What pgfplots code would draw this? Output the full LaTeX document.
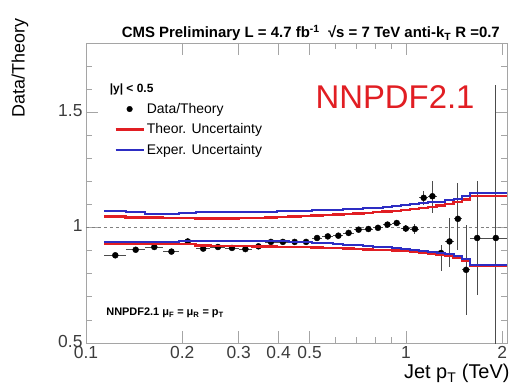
\documentclass[border=0pt]{standalone}
\usepackage{fontspec}
\setmainfont{Liberation Sans}
\usepackage{pgfplots}
\pgfplotsset{compat=1.18}
\definecolor{rootred}{RGB}{225,30,35}
\definecolor{rootblue}{RGB}{45,45,195}
\definecolor{framegray}{RGB}{165,165,165}
\definecolor{ticklab}{RGB}{60,60,60}
\pgfplotsset{
  longline/.style={legend image code/.code={\draw[##1] (0bp,0bp) -- (28bp,0bp);}},
  dotleg/.style={legend image code/.code={\draw[##1] plot coordinates {(14bp,0bp)};}},
}
\begin{document}
\begin{tikzpicture}
\path[use as bounding box] (-86bp,-42bp) rectangle (428bp,343bp);
\begin{axis}[
  at={(0,0)}, anchor=south west,
  scale only axis, width=421bp, height=300bp,
  xmode=log, xmin=0.1, xmax=2.07, ymin=0.5, ymax=1.8,
  clip mode=individual,
  xtick={0.1,0.2,0.3,0.4,0.5,1,2},
  xticklabels={0.1,0.2,0.3,0.4,0.5,1,2},
  minor xtick={0.6,0.7,0.8,0.9},
  ytick={0.5,1,1.5},
  yticklabels={0.5,1,1.5},
  minor ytick={0.6,0.7,0.8,0.9,1.1,1.2,1.3,1.4,1.6,1.7},
  tick align=inside,
  major tick length=12bp, minor tick length=6bp,
  axis line style={framegray, line width=0.8bp},
  every tick/.style={framegray, line width=0.8bp},
  ticklabel style={font=\fontsize{17.5}{17.5}\selectfont, text=ticklab},
  yticklabel style={yshift=2bp},
  /pgf/number format/assume math mode=true,
  legend style={at={(rel axis cs:0.06,0.877)}, anchor=north west, draw=none, fill=none,
    font=\fontsize{14}{15}\selectfont, row sep=5bp},
  legend cell align=left,
]
\addlegendimage{empty legend}
\addlegendentry{\hspace*{-37bp}\fontsize{12}{13}\selectfont\textbf{|y| < 0.5}}
\addlegendimage{dotleg, only marks, mark=*, mark size=2.8bp, black}
\addlegendentry{Data/Theory}
\addlegendimage{longline, rootred, line width=2.4bp}
\addlegendentry{Theor. Uncertainty}
\addlegendimage{longline, rootblue, line width=2bp}
\addlegendentry{Exper. Uncertainty}

\addplot[forget plot, gray, dashed, line width=0.6bp] coordinates {(0.1,1) (2.07,1)};

\addplot[forget plot, only marks, mark=*, mark size=3bp, black,
  error bars/.cd, x dir=both, x explicit, y dir=both, y explicit,
  error bar style={black!70, line width=0.8bp}, error mark=none]
coordinates {
(0.1235,0.880) += (0.0095,0.006) -= (0.0095,0.006)
(0.143,0.904) += (0.010,0.006) -= (0.010,0.006)
(0.1635,0.916) += (0.0105,0.006) -= (0.0105,0.006)
(0.185,0.896) += (0.011,0.006) -= (0.011,0.006)
(0.208,0.940) += (0.012,0.004) -= (0.012,0.004)
(0.2325,0.909) += (0.0125,0.004) -= (0.0125,0.004)
(0.2585,0.916) += (0.0135,0.004) -= (0.0135,0.004)
(0.286,0.912) += (0.014,0.004) -= (0.014,0.004)
(0.315,0.907) += (0.015,0.004) -= (0.015,0.004)
(0.346,0.919) += (0.016,0.004) -= (0.016,0.004)
(0.3785,0.938) += (0.0165,0.004) -= (0.0165,0.004)
(0.4125,0.938) += (0.0175,0.004) -= (0.0175,0.004)
(0.449,0.938) += (0.019,0.004) -= (0.019,0.004)
(0.4875,0.938) += (0.0195,0.004) -= (0.0195,0.004)
(0.5275,0.955) += (0.0205,0.004) -= (0.0205,0.004)
(0.570,0.962) += (0.022,0.004) -= (0.022,0.004)
(0.615,0.965) += (0.023,0.004) -= (0.023,0.004)
(0.662,0.977) += (0.024,0.004) -= (0.024,0.004)
(0.7115,0.991) += (0.0255,0.005) -= (0.0255,0.005)
(0.7635,0.994) += (0.0265,0.005) -= (0.0265,0.005)
(0.818,0.999) += (0.028,0.006) -= (0.028,0.006)
(0.8755,1.013) += (0.0295,0.010) -= (0.0295,0.010)
(0.936,1.020) += (0.031,0.012) -= (0.031,0.012)
(0.9995,0.996) += (0.0325,0.015) -= (0.0325,0.015)
(1.0665,0.994) += (0.0345,0.020) -= (0.0345,0.020)
(1.1365,1.129) += (0.0355,0.029) -= (0.0355,0.029)
(1.21,1.136) += (0.038,0.064) -= (0.038,0.072)
(1.2875,0.890) += (0.0395,0.036) -= (0.0395,0.080)
(1.3685,0.940) += (0.0415,0.100) -= (0.0415,0.110)
(1.4535,1.038) += (0.0435,0.156) -= (0.0435,0.134)
(1.5425,0.817) += (0.0455,0.196) -= (0.0455,0.195)
(1.67,0.955) += (0.114,0.245) -= (0.082,0.246)
(1.91,0.955) += (0.20,0.665) -= (0.126,0.50)
};

\addplot[forget plot, const plot, rootred, line width=2.4bp] coordinates {
(0.114,1.048) (0.133,1.043) (0.153,1.043) (0.174,1.042) (0.196,1.041) (0.220,1.039)
(0.245,1.039) (0.272,1.040) (0.300,1.041) (0.330,1.042) (0.362,1.044) (0.395,1.046)
(0.430,1.048) (0.468,1.050) (0.507,1.052) (0.548,1.054) (0.592,1.056) (0.638,1.058)
(0.686,1.061) (0.737,1.064) (0.790,1.067) (0.846,1.070) (0.905,1.073) (0.967,1.077)
(1.032,1.081) (1.101,1.085) (1.172,1.090) (1.248,1.096) (1.327,1.103) (1.410,1.111)
(1.497,1.122) (1.588,1.137) (2.07,1.137)
};
\addplot[forget plot, const plot, rootred, line width=2.4bp] coordinates {
(0.114,0.929) (0.133,0.929) (0.153,0.929) (0.174,0.929) (0.196,0.929) (0.220,0.922)
(0.245,0.921) (0.272,0.921) (0.300,0.920) (0.330,0.919) (0.362,0.918) (0.395,0.917)
(0.430,0.916) (0.468,0.915) (0.507,0.914) (0.548,0.912) (0.592,0.911) (0.638,0.909)
(0.686,0.908) (0.737,0.906) (0.790,0.904) (0.846,0.902) (0.905,0.900) (0.967,0.898)
(1.032,0.896) (1.101,0.892) (1.172,0.888) (1.248,0.883) (1.327,0.877) (1.410,0.869)
(1.497,0.857) (1.588,0.836) (2.07,0.836)
};
\addplot[forget plot, const plot, rootblue, line width=2bp] coordinates {
(0.114,1.071) (0.133,1.067) (0.153,1.061) (0.174,1.061) (0.196,1.062) (0.220,1.067)
(0.245,1.067) (0.272,1.067) (0.300,1.067) (0.330,1.067) (0.362,1.068) (0.395,1.070)
(0.430,1.071) (0.468,1.073) (0.507,1.075) (0.548,1.076) (0.592,1.078) (0.638,1.080)
(0.686,1.082) (0.737,1.084) (0.790,1.087) (0.846,1.090) (0.905,1.094) (0.967,1.098)
(1.032,1.101) (1.101,1.105) (1.172,1.109) (1.248,1.113) (1.327,1.119) (1.410,1.126)
(1.497,1.136) (1.588,1.148) (2.07,1.148)
};
\addplot[forget plot, const plot, rootblue, line width=2bp] coordinates {
(0.114,0.936) (0.133,0.936) (0.153,0.936) (0.174,0.937) (0.196,0.940) (0.220,0.940)
(0.245,0.940) (0.272,0.940) (0.300,0.940) (0.330,0.940) (0.362,0.940) (0.395,0.940)
(0.430,0.939) (0.468,0.937) (0.507,0.935) (0.548,0.932) (0.592,0.929) (0.638,0.926)
(0.686,0.923) (0.737,0.920) (0.790,0.918) (0.846,0.915) (0.905,0.911) (0.967,0.907)
(1.032,0.904) (1.101,0.900) (1.172,0.896) (1.248,0.891) (1.327,0.885) (1.410,0.876)
(1.497,0.865) (1.588,0.839) (2.07,0.839)
};

\node[anchor=base, font=\bfseries\fontsize{15}{15}\selectfont] at (rel axis cs:0.534,1) [yshift=5bp]
  {CMS Preliminary L = 4.7 fb\textsuperscript{-1}\ \ √s = 7 TeV anti-k\textsubscript{T} R =0.7};
\node[xshift=-66bp, rotate=90, font=\fontsize{18}{18}\selectfont] at (rel axis cs:0,0.917) {Data/Theory};
\node[anchor=north east, font=\fontsize{20}{20}\selectfont] at (rel axis cs:1,0) [yshift=-18bp, xshift=6bp] {Jet p\textsubscript{T} (TeV)};
\node[text=rootred, font=\fontsize{33}{33}\selectfont] at (rel axis cs:0.734,0.82) {NNPDF2.1};
\node[anchor=west, font=\bfseries\fontsize{11}{11}\selectfont] at (rel axis cs:0.04,0.10)
  {NNPDF2.1 μ\textsubscript{F} = μ\textsubscript{R} = p\textsubscript{T}};
\end{axis}
\end{tikzpicture}
\end{document}
